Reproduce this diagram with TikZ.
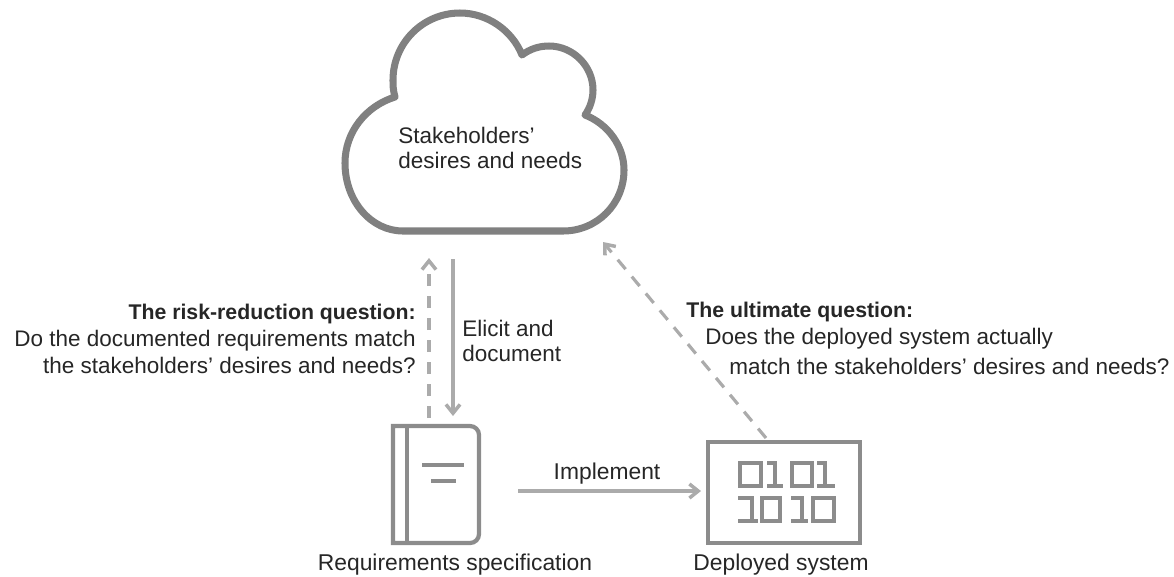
\documentclass[tikz,border=0pt]{standalone}
\usepackage{fontspec}
\setmainfont{Liberation Sans}
\usepackage{xcolor}
\usetikzlibrary{arrows.meta}
\definecolor{cloudgray}{HTML}{808080}
\definecolor{icongray}{HTML}{8C8C8C}
\definecolor{arrowgray}{HTML}{ABABAB}
\newcommand{\headfont}{\fontsize{12.1pt}{15.4pt}\selectfont\bfseries}
\tikzset{
  textlabel/.style={font=\fontsize{12.8pt}{15.4pt}\selectfont,inner sep=0pt,text=black!85},
  shortlabel/.style={font=\fontsize{12.8pt}{14.3pt}\selectfont,inner sep=0pt,text=black!85},
  caption/.style={font=\fontsize{13pt}{15.4pt}\selectfont,inner sep=0pt,text=black!85},
  flow/.style={arrowgray,line width=1.8pt,-{Straight Barb[length=5pt,width=8pt,line width=2pt]}},
  check/.style={flow,dash pattern=on 7pt off 5.5pt},
  icon/.style={icongray,line width=2.4pt},
}
\begin{document}
\begin{tikzpicture}[x=0.02cm,y=-0.02cm]
\useasboundingbox (0,0) rectangle (1174,576);
%cloud
\draw[cloudgray,line width=4pt,line join=round] (395,97) .. controls (393,90) and (393,85) .. (393,80) .. controls (393,43) and (423,13) .. (460,13) .. controls (487,13) and (512,30) .. (522,55) .. controls (530,49) and (539,46) .. (549,46) .. controls (573,46) and (593,66) .. (593,90) .. controls (593,99) and (590,108) .. (585,115) .. controls (608,124) and (624,146) .. (624,170) .. controls (624,204) and (597,231) .. (563,231) -- (403,231) .. controls (371,231) and (345,201) .. (345,163) .. controls (345,132) and (366,106) .. (395,97) -- cycle;
\node[shortlabel,align=left,anchor=west] (desires) at (398,148) {Stakeholders'\\desires and needs};
%book
\draw[icon] (393,543) -- (393,426) -- (470,426) .. controls (475,426) and (479,430) .. (479,435) -- (479,534) .. controls (479,539) and (475,543) .. (470,543) -- cycle;
\draw[icon] (407,426) -- (407,543);
\draw[icon] (422,465) -- (464,465);
\draw[icon] (431,481) -- (456,481);
\node[caption] (specname) at (455,565) {Requirements specification};
%system
\node[icon,draw,minimum width=3.04cm,minimum height=2.02cm,inner sep=0pt] (system) at (784,492.5) {};
\foreach \xa/\xb/\ya/\yb in {740/761/463/486,792/812/463/486,762/780/498/521,813/834/498/521}
  \draw[icon] (\xa,\ya) rectangle (\xb,\yb);
\foreach \xs/\xa/\xb/\ya/\yb in {775/767/783/463/486,825/817/835/463/486,752/738/758/498/521,802/791/808/498/521}
  \draw[icon] (\xa,\ya) -- (\xs,\ya) -- (\xs,\yb) (\xa,\yb) -- (\xb,\yb);
\node[caption] (sysname) at (781,565) {Deployed system};
%connectors
\coordinate (elicitfrom) at (453,259);
\coordinate (elicitto) at (453,416);
\coordinate (checkfrom) at (429,418);
\coordinate (checkto) at (429,258);
\coordinate (implfrom) at (518,491);
\coordinate (implto) at (701,491);
\coordinate (ultfrom) at (766,438);
\coordinate (ultto) at (603,242);
\draw[flow] (elicitfrom) -- (elicitto);
\draw[check] (checkfrom) -- (checkto);
\draw[flow] (implfrom) -- (implto);
\draw[check] (ultfrom) -- (ultto);
\node[shortlabel,align=left,anchor=west] (elicit) at (462,341) {Elicit and\\document};
\node[caption] (impl) at (607,474) {Implement};
\node[textlabel,align=right,anchor=east] (riskq) at (416,339) {{\headfont The risk-reduction question:}\\Do the documented requirements match\\the stakeholders' desires and needs?};
\node[textlabel,anchor=west] (ultq1) at (686,312) {\headfont The ultimate question:};
\node[textlabel,anchor=west] (ultq2) at (705,339) {Does the deployed system actually};
\node[textlabel,anchor=west] (ultq3) at (729,366) {match the stakeholders' desires and needs?};
\end{tikzpicture}
\end{document}
